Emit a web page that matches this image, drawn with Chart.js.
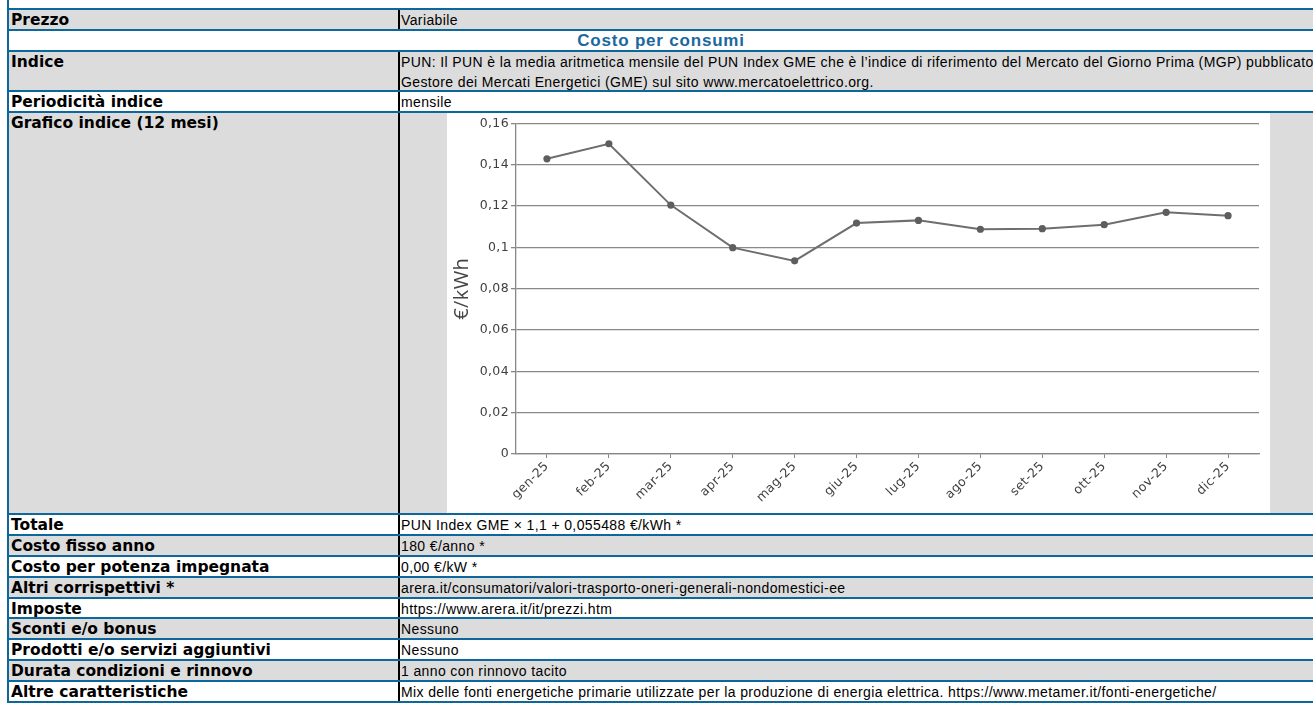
<!DOCTYPE html>
<html lang="it">
<head>
<meta charset="utf-8">
<title>Costo per consumi - Grafico indice</title>
<script src="https://cdn.jsdelivr.net/npm/chart.js@4.4.1/dist/chart.umd.min.js"></script>
<style>
  html, body { margin: 0; padding: 0; background: #fff; width: 1313px; height: 704px; overflow: hidden; }
  .sheet { position: absolute; left: 7px; top: 0; width: 1330px; border-left: 2px solid #0b679c; }
  .row { display: flex; box-sizing: border-box; border-bottom: 2px solid #0b679c; overflow: hidden; }
  .grey { background: #dcdcdc; }
  .k {
    width: 391px; flex: none; box-sizing: border-box; padding: 1px 0 0 2px;
    border-right: 2px solid #000;
    font: bold 15.5px "DejaVu Sans", Verdana, sans-serif; line-height: 19px; color: #000;
    white-space: nowrap; overflow: hidden;
  }
  .v {
    flex: 1; padding: 1px 0 0 1px;
    font: 14px "Liberation Sans Narrow", "Arial Narrow", sans-serif; letter-spacing: 0.38px;
    line-height: 19px; color: #000;
    white-space: nowrap; overflow: hidden; position: relative;
  }
  .v.two { line-height: 20px; padding-top: 0; }
  .section {
    width: 1304px; text-align: center;
    font: bold 17px "Liberation Sans Narrow", "Arial Narrow", sans-serif; letter-spacing: 0.8px;
    line-height: 20px; color: #1a689e;
  }
  .chart-box { position: absolute; left: 47px; top: 0; width: 823px; height: 400px; background: #fff; }
</style>
</head>
<body>
<div class="sheet" id="sheet"></div>
<script>
// table content
const rowsTop = [
  ["Prezzo", "Variabile", true]
];
const sectionTitle = "Costo per consumi";
const indiceLabel = "Indice";
const indiceText = [
  "PUN: Il PUN è la media aritmetica mensile del PUN Index GME che è l’indice di riferimento del Mercato del Giorno Prima (MGP) pubblicato dal",
  "Gestore dei Mercati Energetici (GME) sul sito www.mercatoelettrico.org."
];
const periodicita = ["Periodicità indice", "mensile"];
const graficoLabel = "Grafico indice (12 mesi)";
const rowsBottom = [
  ["Totale", "PUN Index GME × 1,1 + 0,055488 €/kWh *"],
  ["Costo fisso anno", "180 €/anno *"],
  ["Costo per potenza impegnata", "0,00 €/kW *"],
  ["Altri corrispettivi *", "arera.it/consumatori/valori-trasporto-oneri-generali-nondomestici-ee"],
  ["Imposte", "https://www.arera.it/it/prezzi.htm"],
  ["Sconti e/o bonus", "Nessuno"],
  ["Prodotti e/o servizi aggiuntivi", "Nessuno"],
  ["Durata condizioni e rinnovo", "1 anno con rinnovo tacito"],
  ["Altre caratteristiche", "Mix delle fonti energetiche primarie utilizzate per la produzione di energia elettrica. https://www.metamer.it/fonti-energetiche/"]
];

// chart data
const months = ["gen-25", "feb-25", "mar-25", "apr-25", "mag-25", "giu-25",
                "lug-25", "ago-25", "set-25", "ott-25", "nov-25", "dic-25"];
const punIndex = [0.1429, 0.1502, 0.1205, 0.0999, 0.0935, 0.1118,
                  0.1131, 0.1088, 0.1091, 0.1110, 0.1170, 0.1154];
const yMin = 0;
const yMax = 0.16;
const yStep = 0.02;
const yTitle = "€/kWh";

const sheet = document.getElementById("sheet");

function addRow(height, grey) {
  const row = document.createElement("div");
  row.className = "row" + (grey ? " grey" : "");
  row.style.height = height + "px";
  sheet.append(row);
  return row;
}

function addPair(height, grey, key, val) {
  const row = addRow(height, grey);
  const k = document.createElement("div");
  k.className = "k";
  k.textContent = key;
  const v = document.createElement("div");
  v.className = "v";
  v.textContent = val;
  row.append(k, v);
  return v;
}

addRow(10.3, false);
addPair(20.8, true, rowsTop[0][0], rowsTop[0][1]);

const sec = addRow(20.8, false);
const secText = document.createElement("div");
secText.className = "section";
secText.textContent = sectionTitle;
sec.append(secText);

const indice = addPair(40, true, indiceLabel, "");
indice.classList.add("two");
indiceText.forEach((line) => {
  const d = document.createElement("div");
  d.textContent = line;
  indice.append(d);
});

addPair(20.8, false, periodicita[0], periodicita[1]);

const grafico = addPair(402.3, true, graficoLabel, "");
const box = document.createElement("div");
box.className = "chart-box";
const canvas = document.createElement("canvas");
box.append(canvas);
grafico.append(box);

rowsBottom.forEach(([k, v], i) => addPair(20.9, i % 2 === 1, k, v));

const fmt = (v) => String(Math.round(v * 100) / 100).replace(".", ",");

new Chart(canvas, {
  type: "line",
  data: {
    labels: months,
    datasets: [
      {
        data: punIndex,
        borderColor: "#6e6e6e",
        backgroundColor: "#5e5e5e",
        borderWidth: 2,
        pointRadius: 3.6,
        pointBorderWidth: 0,
        pointBackgroundColor: "#5e5e5e",
        tension: 0,
      }
    ],
  },
  options: {
    responsive: true,
    maintainAspectRatio: false,
    animation: false,
    layout: { padding: { top: 10.5, right: 11, left: 0, bottom: 0 } },
    plugins: { legend: { display: false }, tooltip: { enabled: false } },
    scales: {
      x: {
        offset: true,
        grid: { display: true, drawOnChartArea: false, offset: false, tickLength: 4, color: "#888" },
        border: { color: "#888", width: 1.3 },
        ticks: {
          minRotation: 45,
          maxRotation: 45,
          padding: 1,
          color: "#404040",
          font: { family: "'DejaVu Sans'", size: 12.5 },
        },
        afterFit: (scale) => { scale.height = 59; },
      },
      y: {
        min: yMin,
        max: yMax,
        ticks: {
          stepSize: yStep,
          padding: 2,
          color: "#404040",
          font: { family: "'DejaVu Sans'", size: 12.5 },
          callback: (v) => fmt(v),
        },
        grid: { color: "#888", lineWidth: 1.3, tickLength: 5 },
        border: { color: "#888", width: 1.3 },
        title: {
          display: true,
          text: yTitle,
          color: "#454545",
          padding: { top: 3, bottom: 0 },
          font: { family: "'Open Sans'", size: 20, weight: "normal" },
        },
        afterFit: (scale) => { scale.width = 69; },
      },
    },
  },
});
</script>
</body>
</html>
